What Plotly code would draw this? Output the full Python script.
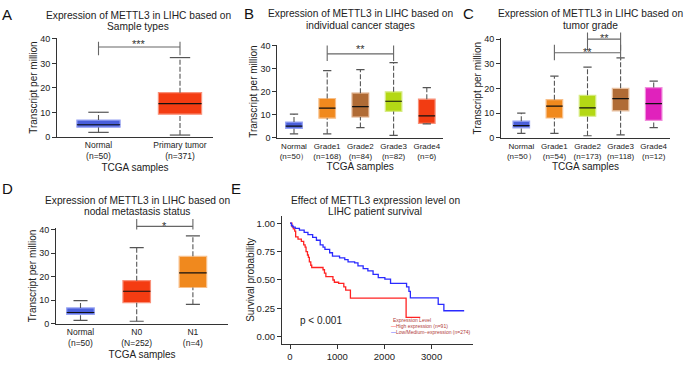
import plotly.graph_objects as go

W, H = 685, 369
FONT = "Liberation Sans, Arial, Helvetica, sans-serif"

# ---------------- data ----------------
# Panel A: sample types
a_labels = ["Normal<br>(n=50)", "Primary tumor<br>(n=371)"]
a_lower = [1.9, 0.8]
a_q1 = [4.0, 9.3]
a_median = [5.0, 13.6]
a_q3 = [6.9, 18.1]
a_upper = [10.1, 32.4]
a_fill = ["#4a5fdb", "#f43c12"]
a_edge = ["#95a2f3", "#f9917a"]
a_sig = [(0, 1, 36.7, 33.4, 38.9, "***", 38.6)]

# Panel B: individual cancer stages
b_labels = ["Normal<br>(n=50）", "Grade1<br>(n=168)", "Grade2<br>(n=84)", "Grade3<br>(n=82)", "Grade4<br>(n=6)"]
b_lower = [1.8, 1.8, 4.5, 1.1, 6.1]
b_q1 = [4.2, 8.6, 9.1, 11.5, 6.3]
b_median = [5.1, 12.9, 13.6, 15.9, 9.6]
b_q3 = [6.9, 17.1, 19.4, 20.0, 16.8]
b_upper = [10.3, 29.2, 29.6, 32.6, 21.8]
b_fill = ["#4a5fdb", "#f0891e", "#b06b35", "#b4d815", "#f23c12"]
b_edge = ["#95a2f3", "#f8c08a", "#d9a57e", "#d8ec86", "#f8917a"]
b_sig = [(1, 3, 36.4, 33.3, 40.0, "**", 39.3)]

# Panel C: tumor grade
c_labels = ["Normal<br>(n=50）", "Grade1<br>(n=54)", "Grade2<br>(n=173)", "Grade3<br>(n=118)", "Grade4<br>(n=12)"]
c_lower = [1.85, 1.85, 0.9, 1.3, 4.2]
c_q1 = [4.1, 8.1, 8.8, 11.0, 7.1]
c_median = [5.0, 12.9, 12.2, 15.9, 13.9]
c_q3 = [6.8, 15.5, 17.3, 20.1, 20.4]
c_upper = [10.1, 25.0, 28.7, 32.4, 23.0]
c_fill = ["#4a5fdb", "#f0891e", "#b4d815", "#b06b35", "#e022bc"]
c_edge = ["#95a2f3", "#f8c08a", "#d8ec86", "#e8c0a0", "#f190dc"]
c_sig = [(1, 3, 34.5, 31.5, 37.7, "**", 35.5), (2, 3, 40.0, 35.4, 42.7, "**", 41.1)]

# Panel D: nodal metastasis status
d_labels = ["Normal<br>(n=50)", "N0<br>(N=252)", "N1<br>(n=4)"]
d_lower = [1.5, 1.1, 8.25]
d_q1 = [4.0, 8.95, 15.4]
d_median = [4.8, 13.8, 21.6]
d_q3 = [6.75, 18.3, 28.6]
d_upper = [9.8, 32.3, 37.3]
d_fill = ["#4a5fdb", "#f43c12", "#f0891e"]
d_edge = ["#95a2f3", "#f9917a", "#f8c08a"]
d_sig = [(1, 2, 41.3, 40.0, 44.4, "*", 42.4)]

# Panel E: Kaplan-Meier survival
km_high_t = [0, 40, 70, 100, 120, 170, 240, 290, 320, 340, 370, 390, 410, 440, 460, 700, 730,
             760, 910, 940, 1030, 1140, 1180, 1280, 2460, 2760]
km_high_s = [1.0, 0.97, 0.95, 0.93, 0.88, 0.86, 0.84, 0.81, 0.79, 0.75, 0.72, 0.70, 0.66, 0.63,
             0.61, 0.59, 0.56, 0.53, 0.50, 0.48, 0.47, 0.44, 0.41, 0.34, 0.17, 0.17]
km_low_t = [0, 30, 60, 110, 200, 300, 380, 480, 560, 640, 700, 740, 840, 900, 1050, 1160, 1230,
            1370, 1440, 1550, 1650, 1760, 1870, 2010, 2130, 2470, 2520, 2550, 3140, 3260, 3690]
km_low_s = [1.0, 0.98, 0.965, 0.955, 0.94, 0.92, 0.90, 0.875, 0.85, 0.81, 0.79, 0.77, 0.74, 0.71,
            0.695, 0.68, 0.66, 0.65, 0.625, 0.60, 0.58, 0.55, 0.52, 0.508, 0.47, 0.44, 0.40,
            0.343, 0.286, 0.229, 0.229]
km_names = ["High expression (n=91)", "Low/Medium\u2212expression (n=274)"]
km_colors = ["#ff2222", "#2a2aff"]

# ---------------- layout geometry (pixels) ----------------
geo = {
    "A": dict(cat0=98.5, dx=81.5, xl=57, xr=213, y0=135.7, ky=2.52, ytop=34.0, btop=10),
    "B": dict(cat0=294.0, dx=33.2, xl=277.3, xr=443, y0=136.7, ky=2.375, ytop=41.4, btop=10),
    "C": dict(cat0=521.3, dx=33.1, xl=501, xr=670, y0=136.7, ky=2.54, ytop=34.3, btop=10),
    "D": dict(cat0=80.5, dx=56.2, xl=56, xr=228, y0=327.7, ky=2.425, ytop=229.3, btop=200),
}
box_w = {"A": 0.53, "B": 0.5, "C": 0.5, "D": 0.49}
CAP = 0.25

fig = go.Figure()
layout = dict(width=W, height=H, margin=dict(l=0, r=0, t=0, b=0), showlegend=False,
              paper_bgcolor="white", plot_bgcolor="rgba(0,0,0,0)",
              font=dict(family=FONT, color="#222", size=9), annotations=[])


def add_box_panel(key, idx, bidx, labels, lower, q1, med, q3, upper, fill, edge, sigs):
    g = geo[key]
    xa, ya, ba = ("x" if idx == 1 else f"x{idx}"), ("y" if idx == 1 else f"y{idx}"), f"y{bidx}"
    n = len(labels)
    xs = list(range(n))
    bw = box_w[key]
    # whiskers (dashed)
    wx, wy = [], []
    for i in xs:
        wx += [i, i, None, i, i, None]
        wy += [q3[i], upper[i], None, lower[i], q1[i], None]
    fig.add_trace(go.Scatter(x=wx, y=wy, mode="lines", xaxis=xa, yaxis=ya, hoverinfo="skip",
                             line=dict(color="#555555", width=1.1, dash="5px,2px")))
    # boxes
    fig.add_trace(go.Bar(x=xs, y=[q3[i] - q1[i] for i in xs], base=q1, width=bw,
                         xaxis=xa, yaxis=ya,
                         marker=dict(color=fill, line=dict(color=edge, width=1.2))))
    # caps
    cx, cy = [], []
    for i in xs:
        cx += [i - CAP / 2, i + CAP / 2, None, i - CAP / 2, i + CAP / 2, None]
        cy += [upper[i], upper[i], None, lower[i], lower[i], None]
    fig.add_trace(go.Scatter(x=cx, y=cy, mode="lines", xaxis=xa, yaxis=ya, hoverinfo="skip",
                             line=dict(color="#555555", width=1.2)))
    # medians
    mx, my = [], []
    for i in xs:
        mx += [i - bw / 2, i + bw / 2, None]
        my += [med[i], med[i], None]
    fig.add_trace(go.Scatter(x=mx, y=my, mode="lines", xaxis=xa, yaxis=ya, hoverinfo="skip",
                             line=dict(color="#111111", width=1.2)))
    # significance brackets
    sx, sy = [], []
    for (i1, i2, lev, lo, hi, lab, ly) in sigs:
        sx += [i1, i1, None, i2, i2, None, i1, i2, None]
        sy += [lo, hi, None, lo, hi, None, lev, lev, None]
        layout["annotations"].append(dict(x=(i1 + i2) / 2, y=ly, xref=xa, yref=ba, text=lab,
                                          showarrow=False, font=dict(size=11, color="#333"),
                                          yshift=-2))
    fig.add_trace(go.Scatter(x=sx, y=sy, mode="lines", xaxis=xa, yaxis=ba, hoverinfo="skip",
                             line=dict(color="#666666", width=1.1)))

    axis_font = 8.5 if key in ("A", "D") else 8
    layout[("xaxis" if idx == 1 else f"xaxis{idx}")] = dict(
        domain=[g["xl"] / W, g["xr"] / W],
        range=[(g["xl"] - g["cat0"]) / g["dx"], (g["xr"] - g["cat0"]) / g["dx"]],
        anchor=ya, tickmode="array", tickvals=xs, ticktext=labels, ticks="",
        showline=True, linecolor="#333", linewidth=1, showgrid=False, zeroline=False,
        tickfont=dict(size=axis_font, color="#222"),
        title=dict(text="TCGA samples", font=dict(size=10, color="#222"), standoff=3))
    layout[("yaxis" if idx == 1 else f"yaxis{idx}")] = dict(
        domain=[1 - g["y0"] / H, 1 - g["ytop"] / H],
        range=[0, (g["y0"] - g["ytop"]) / g["ky"]],
        anchor=xa, tickmode="array", tickvals=[0, 10, 20, 30, 40], ticks="outside",
        ticklen=4, tickcolor="#333", showline=True, linecolor="#333", linewidth=1,
        showgrid=False, zeroline=False, tickfont=dict(size=9, color="#222"),
        title=dict(text="Transcript per million", font=dict(size=10, color="#222"),
                   standoff=0))
    layout[f"yaxis{bidx}"] = dict(
        domain=[1 - g["y0"] / H, 1 - g["btop"] / H],
        range=[0, (g["y0"] - g["btop"]) / g["ky"]],
        anchor=xa, visible=False, showgrid=False, zeroline=False)


add_box_panel("A", 1, 6, a_labels, a_lower, a_q1, a_median, a_q3, a_upper, a_fill, a_edge, a_sig)
add_box_panel("B", 2, 7, b_labels, b_lower, b_q1, b_median, b_q3, b_upper, b_fill, b_edge, b_sig)
add_box_panel("C", 3, 8, c_labels, c_lower, c_q1, c_median, c_q3, c_upper, c_fill, c_edge, c_sig)
add_box_panel("D", 4, 9, d_labels, d_lower, d_q1, d_median, d_q3, d_upper, d_fill, d_edge, d_sig)

# ---------------- Panel E: KM ----------------
for t, s, nm, col in [(km_high_t, km_high_s, km_names[0], km_colors[0]),
                      (km_low_t, km_low_s, km_names[1], km_colors[1])]:
    fig.add_trace(go.Scatter(x=t, y=s, mode="lines", name=nm, xaxis="x5", yaxis="y5",
                             line=dict(color=col, width=1.3, shape="hv")))

E_x0, E_kx, E_xl, E_xr = 290.0, 0.0472, 282.0, 473.0
E_s0, E_ks, E_ytop, E_ybot = 341.0, 116.7, 217.0, 348.0
layout["xaxis5"] = dict(domain=[E_xl / W, E_xr / W],
                        range=[(E_xl - E_x0) / E_kx, (E_xr - E_x0) / E_kx],
                        anchor="y5", tickmode="array", tickvals=[0, 1000, 2000, 3000],
                        ticks="outside", ticklen=4, tickcolor="#333", showline=True,
                        linecolor="#333", linewidth=1, showgrid=False, zeroline=False,
                        tickfont=dict(size=9.5, color="#222"))
layout["yaxis5"] = dict(domain=[1 - E_ybot / H, 1 - E_ytop / H],
                        range=[(E_s0 - E_ybot) / E_ks, (E_s0 - E_ytop) / E_ks],
                        anchor="x5", tickmode="array", tickvals=[0, 0.25, 0.5, 0.75, 1.0],
                        tickformat=".2f", ticks="outside", ticklen=4, tickcolor="#333",
                        showline=True, linecolor="#333", linewidth=1, showgrid=False,
                        zeroline=False, tickfont=dict(size=9.5, color="#222"),
                        title=dict(text="Survival probability", font=dict(size=10, color="#222"),
                                   standoff=0))

ann = layout["annotations"]
ann.append(dict(x=170, y=0.146, xref="x5", yref="y5", text="p < 0.001", showarrow=False,
                xanchor="left", font=dict(size=10, color="#222")))
LEG = "#b03a3a"
ann.append(dict(x=391 / W, y=1 - 329 / H, xref="paper", yref="paper", text="Expression Level",
                showarrow=False, xanchor="left", font=dict(size=5, color=LEG)))
for name, col, ypx in [(km_names[0], km_colors[0], 335.5), (km_names[1], km_colors[1], 341.5)]:
    ann.append(dict(x=389 / W, y=1 - ypx / H, xref="paper", yref="paper",
                    text=f"<span style='color:{col}'>\u2014</span>{name}", showarrow=False,
                    xanchor="left", font=dict(size=5, color=LEG)))

# ---------------- titles (one annotation per line) and panel letters ----------------
titles = [
    ("Expression of METTL3 in LIHC based on", "Sample types", 138, 10.5, 22.5),
    ("Expression of METTL3 in LIHC based on", "individual cancer stages", 361, 9, 21.5),
    ("Expression of METTL3 in LIHC based on", "tumor grade", 590, 9, 21),
    ("Expression of METTL3 in LIHC based on", "nodal metastasis status", 137, 200.5, 212.5),
    ("Effect of METTL3 expression level on", "LIHC patient survival", 375, 200.5, 212.5),
]
for l1, l2, cx, y1, y2 in titles:
    for txt, cy in ((l1, y1), (l2, y2)):
        ann.append(dict(x=cx / W, y=1 - cy / H, xref="paper", yref="paper", text=txt,
                        showarrow=False, xanchor="center", yanchor="middle",
                        font=dict(size=10.2, color="#222")))
letters = [("A", 7, 10), ("B", 249, 9), ("C", 468, 9), ("D", 7, 189), ("E", 236, 189)]
for txt, cx, cy in letters:
    ann.append(dict(x=cx / W, y=1 - cy / H, xref="paper", yref="paper", text=txt,
                    showarrow=False, xanchor="center", yanchor="middle",
                    font=dict(size=15, color="#111")))

fig.update_layout(**layout)
fig.write_html("out.html", config={"displayModeBar": False, "staticPlot": True},
               post_script="document.body.style.margin='0px';document.body.style.padding='0px';")
